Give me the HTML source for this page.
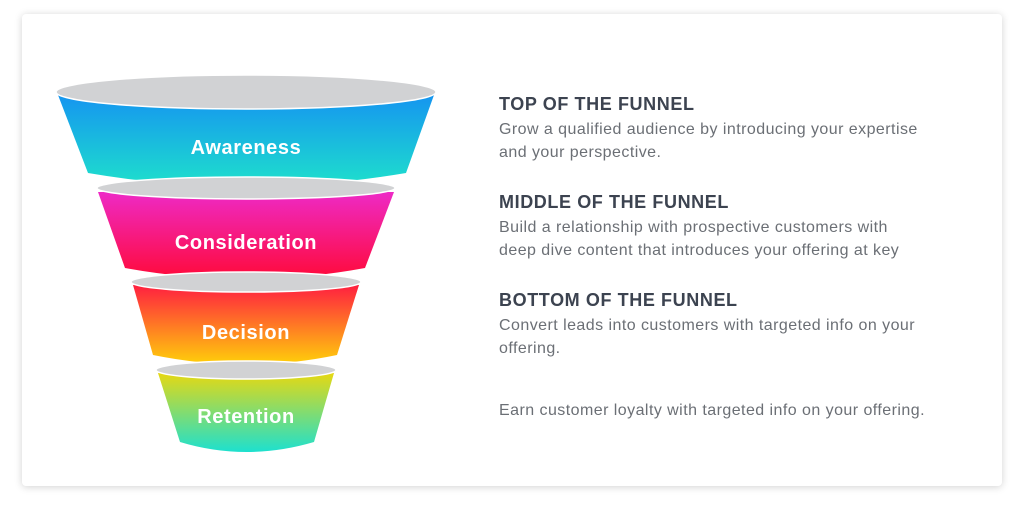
<!DOCTYPE html>
<html><head><style>
body{margin:0;width:1024px;height:514px;background:#fff;position:relative;overflow:hidden;font-family:"Liberation Sans",sans-serif}
.card{position:absolute;left:22px;top:14px;width:980px;height:472px;background:#fff;border-radius:4px;box-shadow:0 1px 8px rgba(0,0,0,.18)}
.t{position:absolute;left:499px;color:#6b6f75;font-size:16px;letter-spacing:0.45px;line-height:23px;white-space:nowrap}
.h{position:absolute;left:499px;color:#3c4350;font-size:18px;letter-spacing:0.6px;font-weight:bold}
</style></head><body>
<div class="card"></div>
<svg width="1024" height="514" style="position:absolute;left:0;top:0">
<defs>
<linearGradient id="g1" x1="0" y1="0" x2="0" y2="1"><stop offset="0" stop-color="#1595f0"/><stop offset="1" stop-color="#1ee0cc"/></linearGradient>
<linearGradient id="g2" x1="0" y1="0" x2="0" y2="1"><stop offset="0" stop-color="#ee2ac6"/><stop offset="1" stop-color="#ff0a3a"/></linearGradient>
<linearGradient id="g3" x1="0" y1="0" x2="0" y2="1"><stop offset="0" stop-color="#ff1f40"/><stop offset="1" stop-color="#ffd00a"/></linearGradient>
<linearGradient id="g4" x1="0" y1="0" x2="0" y2="1"><stop offset="0" stop-color="#e6d812"/><stop offset="1" stop-color="#1de0cf"/></linearGradient>
</defs>
<path d="M58 95 L88 173 Q246 200 406 173 L434 95 Z" fill="url(#g1)"/>
<ellipse cx="246" cy="92" rx="190" ry="17" fill="#d1d2d4" stroke="#fff" stroke-width="1.5"/>
<path d="M98 192 L125 268 Q246 290 365 268 L394 192 Z" fill="url(#g2)"/>
<ellipse cx="246" cy="188" rx="149" ry="11" fill="#d1d2d4" stroke="#fff" stroke-width="1.5"/>
<path d="M133 285 L153 355 Q246 374 337 355 L359 285 Z" fill="url(#g3)"/>
<ellipse cx="246" cy="282" rx="115" ry="10" fill="#d1d2d4" stroke="#fff" stroke-width="1.5"/>
<path d="M158 373 L180 442 Q246 462 314 442 L334 373 Z" fill="url(#g4)"/>
<ellipse cx="246" cy="370" rx="90" ry="9" fill="#d1d2d4" stroke="#fff" stroke-width="1.5"/>
<g fill="#fff" font-family="Liberation Sans,sans-serif" font-weight="bold" font-size="20" letter-spacing="0.6" text-anchor="middle">
<text x="246" y="154">Awareness</text>
<text x="246" y="249">Consideration</text>
<text x="246" y="339">Decision</text>
<text x="246" y="423">Retention</text>
</g>
</svg>
<div class="h" style="top:94px">TOP OF THE FUNNEL</div>
<div class="t" style="top:118px">Grow a qualified audience by introducing your expertise<br>and your perspective.</div>
<div class="h" style="top:192px">MIDDLE OF THE FUNNEL</div>
<div class="t" style="top:216px">Build a relationship with prospective customers with<br>deep dive content that introduces your offering at key</div>
<div class="h" style="top:290px">BOTTOM OF THE FUNNEL</div>
<div class="t" style="top:314px">Convert leads into customers with targeted info on your<br>offering.</div>
<div class="t" style="top:399px">Earn customer loyalty with targeted info on your offering.</div>
</body></html>
